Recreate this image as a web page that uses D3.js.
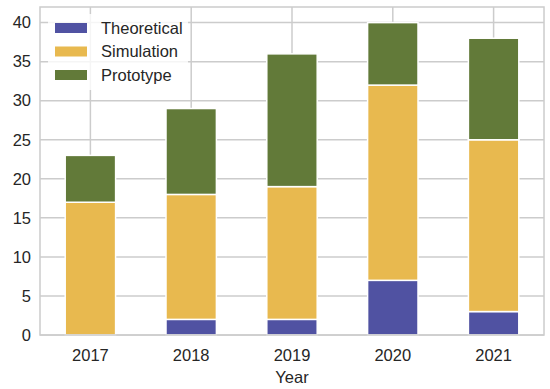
<!DOCTYPE html>
<html>
<head>
<meta charset="utf-8">
<script src="https://cdn.jsdelivr.net/npm/d3@7"></script>
<style>
  body { margin: 0; background: #fff; }
  text { font-family: "Liberation Sans", Arial, sans-serif; fill: #262626; }
</style>
</head>
<body>
<div class="content"></div>
<script>
// данные
var years = ['2017', '2018', '2019', '2020', '2021'];
var theoretical = [0, 2, 2, 7, 3];
var simulation = [17, 16, 17, 25, 22];
var prototype = [6, 11, 17, 8, 13];
var yTicks = [0, 5, 10, 15, 20, 25, 30, 35, 40];

var seriesNames = ['Theoretical', 'Simulation', 'Prototype'];
var colors = {
    'Theoretical': '#5052a2',
    'Simulation': '#e8b94f',
    'Prototype': '#627a39'
};

var w = 550,
    h = 389;
var margin = { left: 40, right: 6, top: 7, bottom: 54 };

var svg = d3.select('.content').append('svg')
    .attr('width', w)
    .attr('height', h);

var x = d3.scaleBand()
    .domain(years)
    .range([margin.left, w - margin.right])
    .paddingInner(0.5)
    .paddingOuter(0.25);

var y = d3.scaleLinear()
    .domain([0, 42])
    .range([h - margin.bottom, margin.top]);

// сетка
var grid = svg.append('g');
grid.selectAll('line.h')
    .data(yTicks)
    .enter().append('line')
    .attr('x1', margin.left).attr('x2', w - margin.right)
    .attr('y1', function(d) { return y(d); }).attr('y2', function(d) { return y(d); })
    .style('stroke', '#cccccc').style('stroke-width', 1.5);
grid.selectAll('line.v')
    .data(years)
    .enter().append('line')
    .attr('x1', function(d) { return x(d) + x.bandwidth() / 2; })
    .attr('x2', function(d) { return x(d) + x.bandwidth() / 2; })
    .attr('y1', margin.top).attr('y2', h - margin.bottom)
    .style('stroke', '#cccccc').style('stroke-width', 1.5);

// стек
var table = years.map(function(yr, i) {
    return { year: yr, Theoretical: theoretical[i], Simulation: simulation[i], Prototype: prototype[i] };
});
var stack = d3.stack().keys(seriesNames)(table);

svg.append('g').selectAll('g')
    .data(stack)
    .enter().append('g')
    .style('fill', function(d) { return colors[d.key]; })
    .selectAll('rect')
    .data(function(d) { return d; })
    .enter().append('rect')
    .attr('x', function(d) { return x(d.data.year); })
    .attr('width', x.bandwidth())
    .attr('y', function(d) { return y(d[1]); })
    .attr('height', function(d) { return y(d[0]) - y(d[1]); })
    .style('stroke', '#fff')
    .style('stroke-width', 1.5);

// рамка
svg.append('rect')
    .attr('x', margin.left).attr('y', margin.top)
    .attr('width', w - margin.left - margin.right)
    .attr('height', h - margin.top - margin.bottom)
    .style('fill', 'none').style('stroke', '#cccccc').style('stroke-width', 1.5);

// подписи осей
svg.append('g').selectAll('text')
    .data(yTicks)
    .enter().append('text')
    .attr('x', margin.left - 9)
    .attr('y', function(d) { return y(d); })
    .attr('dy', '0.35em')
    .attr('text-anchor', 'end')
    .style('font-size', '16.5px')
    .text(function(d) { return d; });

svg.append('g').selectAll('text')
    .data(years)
    .enter().append('text')
    .attr('x', function(d) { return x(d) + x.bandwidth() / 2; })
    .attr('y', h - margin.bottom + 26)
    .attr('text-anchor', 'middle')
    .style('font-size', '16.5px')
    .text(function(d) { return d; });

svg.append('text')
    .attr('x', (margin.left + w - margin.right) / 2)
    .attr('y', 383)
    .attr('text-anchor', 'middle')
    .style('font-size', '16.5px')
    .text('Year');

// легенда
var legend = svg.append('g').attr('transform', 'translate(48,14)');
legend.append('rect')
    .attr('width', 140).attr('height', 76)
    .style('fill', '#fff').style('fill-opacity', 0.8);
var item = legend.selectAll('g.item')
    .data(seriesNames)
    .enter().append('g')
    .attr('transform', function(d, i) { return 'translate(0,' + (i * 23.5) + ')'; });
item.append('rect')
    .attr('x', 7).attr('y', 9)
    .attr('width', 32).attr('height', 10)
    .style('fill', function(d) { return colors[d]; });
item.append('text')
    .attr('x', 53).attr('y', 14)
    .attr('dy', '0.35em')
    .style('font-size', '16.5px')
    .text(function(d) { return d; });
</script>
</body>
</html>
